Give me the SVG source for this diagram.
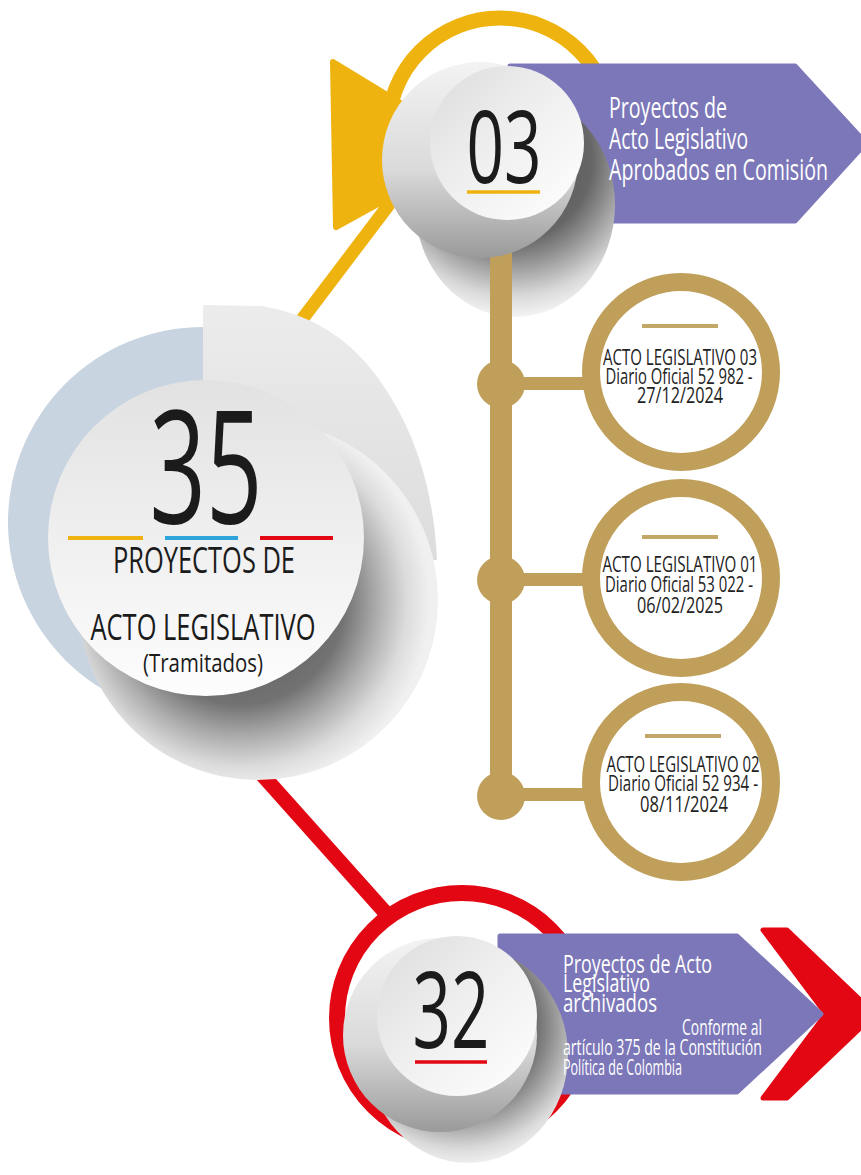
<svg xmlns="http://www.w3.org/2000/svg" width="861" height="1175" viewBox="0 0 861 1175">
<defs>
<style>
text { font-family: 'Open Sans', 'Liberation Sans', sans-serif; }
.num { fill: #1b1b1b; text-anchor: middle; }
.ban { fill: #ffffff; }
.lbl { fill: #1b1b1b; text-anchor: middle; }
.al { fill: #222222; font-size: 21px; text-anchor: middle; }
.goldring { fill: #ffffff; stroke: #bf9f5a; stroke-width: 18; }
.goldline { stroke: #c2a766; stroke-width: 4; }
.purple { fill: #7c77b8; stroke: #7c77b8; stroke-width: 5; stroke-linejoin: round; }
</style>
<linearGradient id="gWhite" x1="0" y1="0" x2="1" y2="1">
<stop offset="0" stop-color="#dcdcdc"/><stop offset="0.5" stop-color="#f0f0f0"/><stop offset="1" stop-color="#ffffff"/>
</linearGradient>
<linearGradient id="gWhite35" x1="0" y1="0" x2="0" y2="1">
<stop offset="0" stop-color="#e2e2e2"/><stop offset="0.6" stop-color="#f2f2f2"/><stop offset="1" stop-color="#fdfdfd"/>
</linearGradient>
<linearGradient id="gShell" x1="0" y1="0" x2="0" y2="1">
<stop offset="0" stop-color="#f3f3f3"/><stop offset="0.55" stop-color="#dadada"/><stop offset="1" stop-color="#9a9a9a"/>
</linearGradient>
<linearGradient id="gTop35" x1="0" y1="0" x2="0" y2="1">
<stop offset="0" stop-color="#ececec"/><stop offset="1" stop-color="#dcdcdc"/>
</linearGradient>
<radialGradient id="gSh35" gradientUnits="userSpaceOnUse" cx="240" cy="600" r="190">
<stop offset="0" stop-color="#555555"/><stop offset="0.55" stop-color="#727272"/><stop offset="0.72" stop-color="#acacac"/><stop offset="0.88" stop-color="#dcdcdc"/><stop offset="1" stop-color="#f0f0f0"/>
</radialGradient>
<radialGradient id="gSh03" gradientUnits="userSpaceOnUse" cx="512" cy="160" r="160">
<stop offset="0" stop-color="#505050"/><stop offset="0.5" stop-color="#666666"/><stop offset="0.62" stop-color="#8c8c8c"/><stop offset="0.85" stop-color="#d9d9d9"/><stop offset="1" stop-color="#f8f8f8"/>
</radialGradient>
<radialGradient id="gSh32" gradientUnits="userSpaceOnUse" cx="460" cy="1025" r="145">
<stop offset="0" stop-color="#505050"/><stop offset="0.5" stop-color="#666666"/><stop offset="0.62" stop-color="#8c8c8c"/><stop offset="0.85" stop-color="#d9d9d9"/><stop offset="1" stop-color="#f8f8f8"/>
</radialGradient>
<clipPath id="noBar"><path clip-rule="evenodd" d="M0,0H861V1175H0Z M490,230H512V420H490Z"/></clipPath>
</defs>

<rect x="0" y="0" width="861" height="1175" fill="#ffffff"/>

<g id="connectors">
<line x1="288" y1="338" x2="400" y2="190" stroke="#efb310" stroke-width="13"/>
<line x1="249" y1="760" x2="392" y2="920" stroke="#e30613" stroke-width="15"/>
<rect x="490" y="240" width="22" height="556" fill="#bf9f5a"/>
<rect x="501" y="377" width="94" height="13" fill="#bf9f5a"/>
<rect x="501" y="573" width="94" height="13" fill="#bf9f5a"/>
<rect x="501" y="788" width="94" height="13" fill="#bf9f5a"/>
<circle cx="501" cy="384" r="24" fill="#bf9f5a"/>
<circle cx="501" cy="580" r="24" fill="#bf9f5a"/>
<circle cx="501" cy="796" r="24" fill="#bf9f5a"/>
</g>

<g id="node-35">
<circle cx="203" cy="522" r="195" fill="#c9d4e1"/>
<path d="M203,305 L262,306 Q335,318 378,378 Q432,452 437,560 L203,560 Z" fill="url(#gTop35)"/>
<circle cx="258" cy="600" r="180" fill="url(#gSh35)"/>
<circle cx="206" cy="538" r="158" fill="url(#gWhite35)"/>
<text class="num" x="206" y="523" font-size="158" textLength="113" lengthAdjust="spacingAndGlyphs">35</text>
<line x1="68" y1="538" x2="143" y2="538" stroke="#efb310" stroke-width="4"/>
<line x1="165" y1="538" x2="238" y2="538" stroke="#2fa3db" stroke-width="4"/>
<line x1="260" y1="538" x2="333" y2="538" stroke="#e30613" stroke-width="4"/>
<text class="lbl" x="204" y="573" font-size="36" textLength="182" lengthAdjust="spacingAndGlyphs">PROYECTOS DE</text>
<text class="lbl" x="203" y="640" font-size="37" textLength="225" lengthAdjust="spacingAndGlyphs">ACTO LEGISLATIVO</text>
<text class="lbl" x="203" y="672" font-size="25" textLength="120" lengthAdjust="spacingAndGlyphs">(Tramitados)</text>
</g>

<g id="node-03">
<circle cx="500" cy="130" r="112" fill="none" stroke="#efb310" stroke-width="15"/>
<polygon points="333,62 425,118 425,178 336,227" fill="#efb310" stroke="#efb310" stroke-width="6" stroke-linejoin="round"/>
<polygon class="purple" points="510,66 795,66 866,143 795,221 510,221"/>
<ellipse cx="515" cy="205" rx="100" ry="112" fill="url(#gSh03)" clip-path="url(#noBar)"/>
<circle cx="480" cy="160" r="98" fill="url(#gShell)"/>
<circle cx="507" cy="143" r="77" fill="url(#gWhite)"/>
<text class="num" x="504" y="183" font-size="100" textLength="75" lengthAdjust="spacingAndGlyphs">03</text>
<line x1="467" y1="192" x2="540" y2="192" stroke="#efb310" stroke-width="3.5"/>
<text class="ban" x="609" y="118" font-size="30" textLength="118" lengthAdjust="spacingAndGlyphs">Proyectos de</text>
<text class="ban" x="609" y="149" font-size="30" textLength="139" lengthAdjust="spacingAndGlyphs">Acto Legislativo</text>
<text class="ban" x="609" y="180" font-size="30" textLength="219" lengthAdjust="spacingAndGlyphs">Aprobados en Comisión</text>
</g>

<g id="node-32">
<circle cx="462" cy="1018" r="125" fill="none" stroke="#e30613" stroke-width="16"/>
<polygon points="763,930 787,930 875,1014 787,1098 763,1098 826,1014" fill="#e30613" stroke="#e30613" stroke-width="5" stroke-linejoin="round"/>
<polygon class="purple" points="500,936 737,936 821,1014 737,1092 500,1092"/>
<ellipse cx="468" cy="1055" rx="100" ry="108" fill="url(#gSh32)"/>
<circle cx="440" cy="1035" r="97" fill="url(#gShell)"/>
<circle cx="457" cy="1016" r="80" fill="url(#gWhite)"/>
<text class="num" x="451" y="1048" font-size="106" textLength="77" lengthAdjust="spacingAndGlyphs">32</text>
<line x1="415" y1="1062" x2="487" y2="1062" stroke="#e30613" stroke-width="3.5"/>
<text class="ban" x="563" y="973" font-size="25" textLength="149" lengthAdjust="spacingAndGlyphs">Proyectos de Acto</text>
<text class="ban" x="563" y="992" font-size="25" textLength="87" lengthAdjust="spacingAndGlyphs">Legislativo</text>
<text class="ban" x="563" y="1012" font-size="25" textLength="94" lengthAdjust="spacingAndGlyphs">archivados</text>
<text class="ban" x="682" y="1035" font-size="21" textLength="80" lengthAdjust="spacingAndGlyphs">Conforme al</text>
<text class="ban" x="563" y="1055" font-size="21" textLength="199" lengthAdjust="spacingAndGlyphs">artículo 375 de la Constitución</text>
<text class="ban" x="563" y="1075" font-size="21" textLength="119" lengthAdjust="spacingAndGlyphs">Política de Colombia</text>
</g>

<g id="node-al03">
<circle class="goldring" cx="681" cy="372" r="90"/>
<line class="goldline" x1="642" y1="326" x2="718" y2="326"/>
<text class="al" x="680" y="365" textLength="154" lengthAdjust="spacingAndGlyphs">ACTO LEGISLATIVO 03</text>
<text class="al" x="679" y="384" textLength="147" lengthAdjust="spacingAndGlyphs">Diario Oficial 52 982 -</text>
<text class="al" x="680" y="403" textLength="86" lengthAdjust="spacingAndGlyphs">27/12/2024</text>
</g>

<g id="node-al01">
<circle class="goldring" cx="681" cy="578" r="90"/>
<line class="goldline" x1="642" y1="537" x2="718" y2="537"/>
<text class="al" x="680" y="572" textLength="155" lengthAdjust="spacingAndGlyphs">ACTO LEGISLATIVO 01</text>
<text class="al" x="679" y="592" textLength="148" lengthAdjust="spacingAndGlyphs">Diario Oficial 53 022 -</text>
<text class="al" x="680" y="613" textLength="86" lengthAdjust="spacingAndGlyphs">06/02/2025</text>
</g>

<g id="node-al02">
<circle class="goldring" cx="681" cy="782" r="90"/>
<line class="goldline" x1="645" y1="736" x2="721" y2="736"/>
<text class="al" x="683" y="772" textLength="153" lengthAdjust="spacingAndGlyphs">ACTO LEGISLATIVO 02</text>
<text class="al" x="683" y="791" textLength="150" lengthAdjust="spacingAndGlyphs">Diario Oficial 52 934 -</text>
<text class="al" x="684" y="812" textLength="88" lengthAdjust="spacingAndGlyphs">08/11/2024</text>
</g>
</svg>
